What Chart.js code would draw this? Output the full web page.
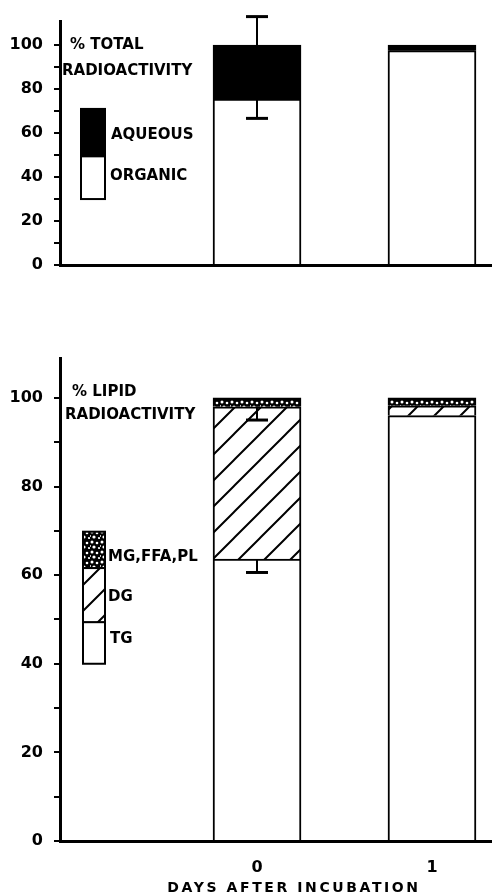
<!DOCTYPE html>
<html>
<head>
<meta charset="utf-8">
<script src="https://cdn.jsdelivr.net/npm/chart.js@4.4.1/dist/chart.umd.min.js"></script>
<style>
  body { margin: 0; background: #fff; }
  canvas { position: absolute; left: 0; }
  #totalChart { top: 0; }
  #lipidChart { top: 330px; }
</style>
</head>
<body>
<canvas id="totalChart" width="492" height="290"></canvas>
<canvas id="lipidChart" width="492" height="565"></canvas>
<script>
// days after incubation
const days = [0, 1];

// top panel: % total radioactivity
const organic = [75.5, 97.5];
const aqueous = [24.5, 2.5];
const totalErrHigh = [113, null];
const organicErrLow = [66.7, null];

// bottom panel: % lipid radioactivity
const tg = [63.6, 96];
const dg = [34.4, 2.2];
const mgFfaPl = [2, 1.8];
const tgErrLow = [60.6, null];
const dgErrLow = [95, null];

const yTickLabels = [0, 20, 40, 60, 80, 100];

Chart.defaults.font.family = '"DejaVu Sans"';
Chart.defaults.font.weight = 'bold';
Chart.defaults.font.size = 16;
Chart.defaults.color = '#000';

function hatch() {
    const s = 26;
    const c = document.createElement('canvas');
    c.width = s; c.height = s;
    const g = c.getContext('2d');
    g.fillStyle = '#fff';
    g.fillRect(0, 0, s, s);
    g.strokeStyle = '#000';
    g.lineWidth = 2;
    g.beginPath();
    g.moveTo(0, s); g.lineTo(s, 0);
    g.moveTo(-2, 2); g.lineTo(2, -2);
    g.moveTo(s - 2, s + 2); g.lineTo(s + 2, s - 2);
    g.stroke();
    return g.createPattern(c, 'repeat');
}

function stipple() {
    const s = 10;
    const c = document.createElement('canvas');
    c.width = s; c.height = s;
    const g = c.getContext('2d');
    g.fillStyle = '#000';
    g.fillRect(0, 0, s, s);
    g.fillStyle = '#fff';
    // little white holes so it looks speckled
    [[2, 2, 1.5], [7, 3, 1.3], [4, 7, 1.6], [9, 8, 1.1], [0, 6, 1]].forEach(p => {
        g.beginPath();
        g.arc(p[0], p[1], p[2], 0, Math.PI * 2);
        g.fill();
    });
    return g.createPattern(c, 'repeat');
}

function pts(vals) {
    return days.map((d, i) => ({ x: d, y: vals[i] }));
}

function sumOf(...arrs) {
    return days.map((d, i) => arrs.reduce((a, arr) => a + arr[i], 0));
}

function errorBars(bars) {
    return {
        id: 'errorBars',
        afterDatasetsDraw(chart) {
            const { ctx, scales: { x, y } } = chart;
            ctx.save();
            ctx.strokeStyle = '#000';
            bars.forEach(b => {
                days.forEach((d, i) => {
                    if (b.end[i] == null) return;
                    const px = x.getPixelForValue(d);
                    const y0 = y.getPixelForValue(b.from[i]);
                    const y1 = y.getPixelForValue(b.end[i]);
                    ctx.lineWidth = 2;
                    ctx.beginPath();
                    ctx.moveTo(px, y0); ctx.lineTo(px, y1);
                    ctx.stroke();
                    ctx.lineWidth = 3;
                    ctx.beginPath();
                    ctx.moveTo(px - 11, y1); ctx.lineTo(px + 11, y1);
                    ctx.stroke();
                });
            });
            ctx.restore();
        }
    };
}

function keyAndText(swatches, texts, axisTitle) {
    return {
        id: 'keyAndText',
        afterDraw(chart) {
            const { ctx, scales: { y } } = chart;
            ctx.save();
            swatches.forEach(s => {
                const top = y.getPixelForValue(s.to);
                const bot = y.getPixelForValue(s.from);
                ctx.fillStyle = s.fill;
                ctx.fillRect(s.x, top, s.w, bot - top);
                ctx.strokeStyle = '#000';
                ctx.lineWidth = 2;
                ctx.strokeRect(s.x, top, s.w, bot - top);
            });
            ctx.fillStyle = '#000';
            ctx.font = 'bold 15px "DejaVu Sans"';
            ctx.textAlign = 'left';
            ctx.textBaseline = 'middle';
            texts.forEach(t => ctx.fillText(t[0], t[1], t[2]));
            if (axisTitle) {
                ctx.font = 'bold 14px "DejaVu Sans"';
                ctx.letterSpacing = '2.6px';
                ctx.textAlign = 'center';
                ctx.fillText(axisTitle[0], axisTitle[1], axisTitle[2]);
            }
            ctx.restore();
        }
    };
}

function yAxis(max) {
    return {
        stacked: true,
        min: 0,
        max: max,
        afterBuildTicks: s => { s.ticks = s.ticks.filter(t => t.value <= 100); },
        afterFit: s => { s.width = 60; },
        ticks: {
            stepSize: 10,
            padding: 11,
            callback: v => (yTickLabels.includes(v) ? String(v) : '')
        },
        grid: { drawOnChartArea: false, tickLength: 6, color: '#000', lineWidth: 2 },
        border: { color: '#000', width: 3 }
    };
}

function xAxis(height, showLabels) {
    return {
        type: 'linear',
        stacked: true,
        offset: false,
        min: -1.126,
        max: 1.343,
        afterBuildTicks: s => { s.ticks = days.map(d => ({ value: d })); },
        afterFit: s => { s.height = height; },
        ticks: { display: showLabels, padding: 9, callback: v => String(v) },
        grid: { display: false, offset: false },
        border: { color: '#000', width: 3 }
    };
}

const barStyle = { barThickness: 88, borderColor: '#000', borderWidth: 2 };

new Chart(document.getElementById('totalChart'), {
    type: 'bar',
    data: {
        datasets: [
            Object.assign({ label: 'ORGANIC', data: pts(organic), backgroundColor: '#fff' }, barStyle),
            Object.assign({ label: 'AQUEOUS', data: pts(aqueous), backgroundColor: '#000' }, barStyle)
        ]
    },
    options: {
        responsive: false,
        animation: false,
        layout: { padding: { top: 21, left: 0, right: 0, bottom: 0 } },
        plugins: { legend: { display: false }, tooltip: { enabled: false } },
        scales: { x: xAxis(25, false), y: yAxis(111) }
    },
    plugins: [
        errorBars([
            { from: sumOf(organic, aqueous), end: totalErrHigh },
            { from: organic, end: organicErrLow }
        ]),
        keyAndText(
            [
                { x: 81, w: 24, from: 30, to: 49.5, fill: '#fff' },
                { x: 81, w: 24, from: 49.5, to: 71, fill: '#000' }
            ],
            [
                ['% TOTAL', 70, 45],
                ['RADIOACTIVITY', 62, 71],
                ['AQUEOUS', 111, 135],
                ['ORGANIC', 110, 176]
            ]
        )
    ]
});

new Chart(document.getElementById('lipidChart'), {
    type: 'bar',
    data: {
        datasets: [
            Object.assign({ label: 'TG', data: pts(tg), backgroundColor: '#fff' }, barStyle),
            Object.assign({ label: 'DG', data: pts(dg), backgroundColor: hatch() }, barStyle),
            Object.assign({ label: 'MG,FFA,PL', data: pts(mgFfaPl), backgroundColor: stipple() }, barStyle)
        ]
    },
    options: {
        responsive: false,
        animation: false,
        layout: { padding: { top: 28, left: 0, right: 0, bottom: 0 } },
        plugins: { legend: { display: false }, tooltip: { enabled: false } },
        scales: { x: xAxis(54, true), y: yAxis(109) }
    },
    plugins: [
        errorBars([
            { from: tg, end: tgErrLow },
            { from: sumOf(tg, dg), end: dgErrLow }
        ]),
        keyAndText(
            [
                { x: 83, w: 22, from: 40, to: 49.4, fill: '#fff' },
                { x: 83, w: 22, from: 49.4, to: 61.6, fill: hatch() },
                { x: 83, w: 22, from: 61.6, to: 69.8, fill: stipple() }
            ],
            [
                ['% LIPID', 72, 62],
                ['RADIOACTIVITY', 65, 85],
                ['MG,FFA,PL', 108, 227],
                ['DG', 108, 267],
                ['TG', 110, 309]
            ],
            ['DAYS AFTER INCUBATION', 294, 558]
        )
    ]
});
</script>
</body>
</html>
